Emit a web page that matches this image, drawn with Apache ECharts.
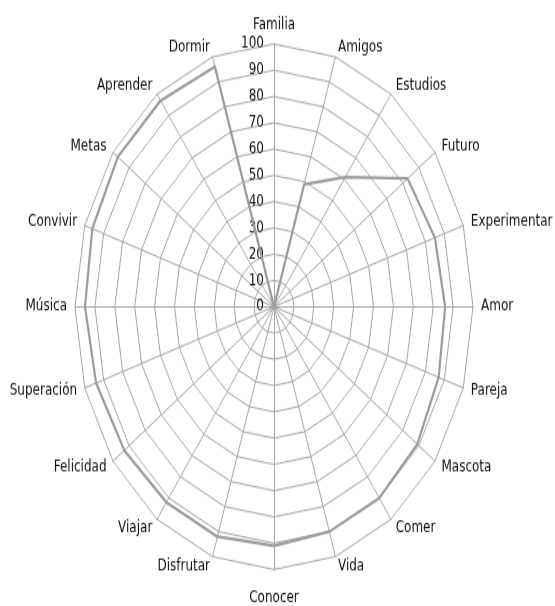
<!DOCTYPE html>
<html><head><meta charset="utf-8">
<script src="https://cdn.jsdelivr.net/npm/echarts@6/dist/echarts.min.js"></script>
<style>
html,body{margin:0;padding:0;background:#fff;overflow:hidden}
#wrap{width:555px;height:606px;overflow:hidden;position:relative}
#chart{width:555px;height:459px;transform:scaleY(1.3203);transform-origin:0 0}
</style></head>
<body><div id="wrap"><div id="chart"></div></div>
<script>
const categories = ['Familia','Amigos','Estudios','Futuro','Experimentar','Amor','Pareja','Mascota','Comer','Vida','Conocer','Disfrutar','Viajar','Felicidad','Superación','Música','Convivir','Metas','Aprender','Dormir'];
const values = [0,49,61,83,85,86,87,89,90,90,91,92,92,93,94,95,96,97,97,96];
const axisMin = 0;
const axisMax = 100;
const splitCount = 10;

// ECharts lays indicators counter-clockwise; reorder so the chart reads clockwise
const n = categories.length;
const order = [0].concat(categories.slice(1).map((_, i) => n - 1 - i));
const indicator = order.map((idx, k) => {
  const o = { name: categories[idx], min: axisMin, max: axisMax };
  if (k === 0) o.axisLabel = { show: true };
  if (idx === n / 2) o.nameGap = 16; // bottom label sits a bit lower
  return o;
});
const seriesData = order.map(idx => values[idx]);

const grid = '#a6a6a6';
const textColor = '#111';
const chart = echarts.init(document.getElementById('chart'), null, { renderer: 'canvas' });
chart.setOption({
  animation: false,
  backgroundColor: '#fff',
  radar: {
    center: [274, 232.3],
    radius: 199,
    startAngle: 90,
    shape: 'polygon',
    splitNumber: splitCount,
    indicator: indicator,
    nameGap: 8,
    axisName: { color: textColor, fontFamily: 'DejaVu Sans', fontSize: 12 },
    axisLine: { show: true, lineStyle: { color: grid, width: 1 } },
    splitLine: { show: true, lineStyle: { color: grid, width: 1 } },
    splitArea: { show: false },
    axisTick: { show: false },
    axisLabel: { show: false, color: textColor, fontFamily: 'DejaVu Sans', fontSize: 12, margin: 10 }
  },
  series: [{
    type: 'radar',
    symbol: 'none',
    lineStyle: { color: '#9c9c9c', width: 2.2 },
    itemStyle: { color: '#9c9c9c' },
    data: [{ value: seriesData, name: 'Serie' }]
  }]
});
</script>
</body></html>
